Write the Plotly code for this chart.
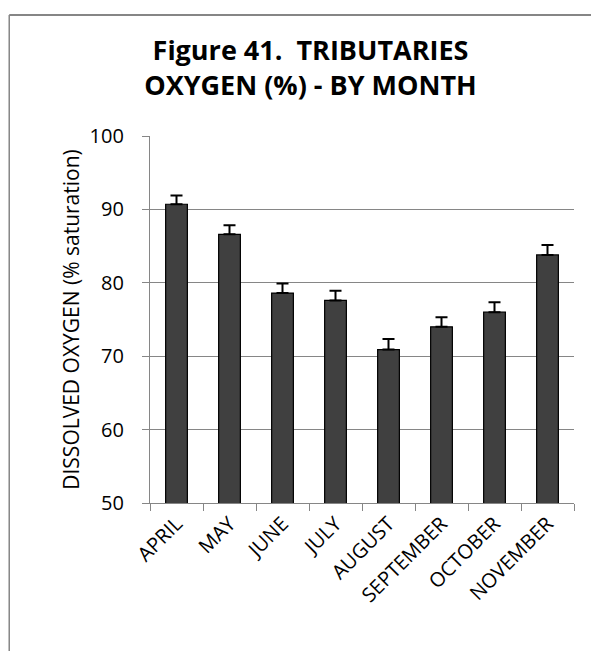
import plotly.graph_objects as go

months = ["APRIL", "MAY", "JUNE", "JULY", "AUGUST", "SEPTEMBER", "OCTOBER", "NOVEMBER"]
oxygen = [90.7, 86.6, 78.6, 77.6, 70.9, 74.0, 76.0, 83.8]
error_plus = [1.2, 1.25, 1.3, 1.3, 1.45, 1.3, 1.35, 1.35]

fig = go.Figure()
fig.add_trace(go.Bar(
    x=months, y=oxygen,
    width=0.41,
    marker=dict(color="#404040", line=dict(color="#000000", width=1.2)),
    error_y=dict(type="data", symmetric=False, array=error_plus,
                 arrayminus=[0] * len(error_plus),
                 color="#000000", thickness=2, width=6),
))

fig.update_layout(
    width=599, height=651,
    paper_bgcolor="white", plot_bgcolor="white",
    margin=dict(l=142, r=33, t=128, b=156),
    showlegend=False,
    title=dict(text="<b>Figure 41.  TRIBUTARIES<br>OXYGEN (%) - BY MONTH</b>",
               x=0.505, xanchor="center", y=0.92, yanchor="top",
               font=dict(family="Open Sans", size=27, color="#000000")),
    font=dict(family="Open Sans", color="#000000"),
    shapes=[
        dict(type="line", xref="paper", yref="paper", layer="above",
             x0=-0.332, x1=1.075, y0=1.33, y1=1.33,
             line=dict(color="#868686", width=2)),
        dict(type="line", xref="paper", yref="paper", layer="above",
             x0=-0.332, x1=-0.332, y0=-0.6, y1=1.33,
             line=dict(color="#868686", width=1.5)),
    ],
)
fig.update_yaxes(
    range=[50, 100], dtick=10,
    showgrid=True, gridcolor="#868686", gridwidth=1.3,
    showline=True, linecolor="#868686", linewidth=1.3,
    ticks="outside", ticklen=7, tickcolor="#868686",
    ticklabelstandoff=14,
    tickfont=dict(size=20, family="Open Sans", color="#000000"),
    title=dict(text="DISSOLVED OXYGEN (% saturation)",
               font=dict(size=21, family="Open Sans", color="#000000"), standoff=4),
    zeroline=False,
)
fig.update_xaxes(
    showline=True, linecolor="#868686", linewidth=1.3,
    ticks="outside", tickson="boundaries", ticklen=7, tickcolor="#868686",
    tickangle=-45,
    tickfont=dict(size=20, family="Open Sans", color="#000000"),
)

fig.write_html("out.html")
